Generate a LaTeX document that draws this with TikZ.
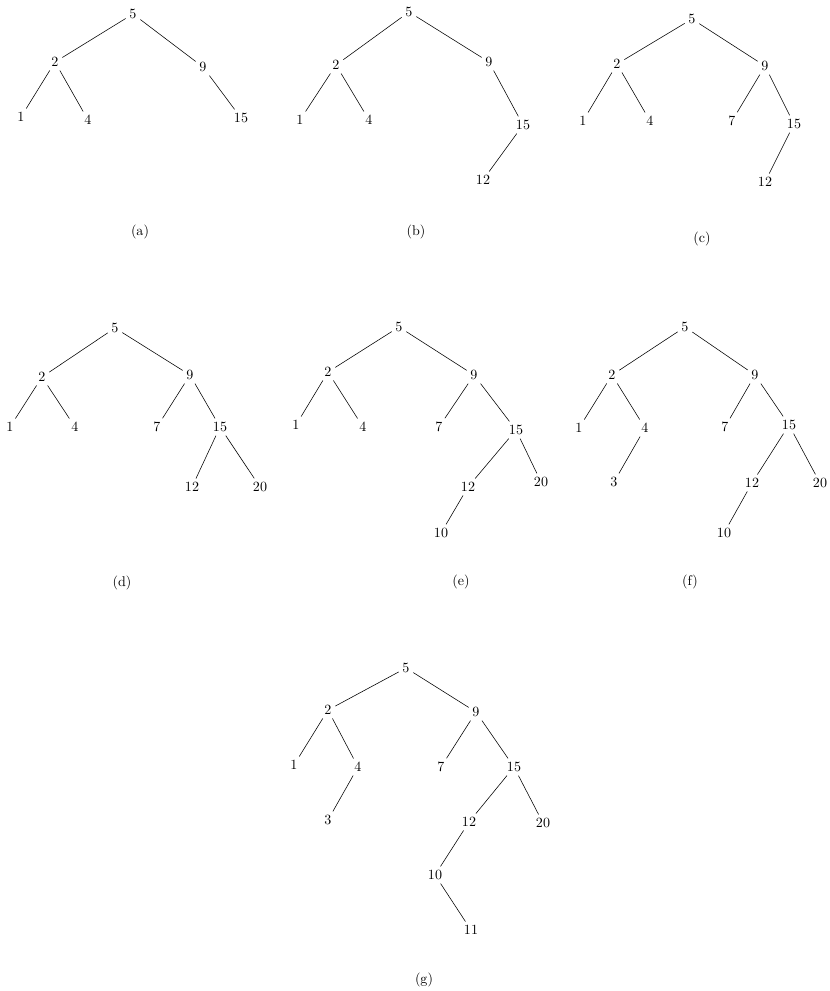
\documentclass[tikz,border=0pt]{standalone}
\usepackage{amsmath}
\usepackage{tikz}

\begin{document}
\begin{tikzpicture}[x=0.025cm, y=-0.025cm, every node/.style={inner sep=2.5pt}]
  \useasboundingbox (0,0) rectangle (829,991);
  % Tree (a)
  \begin{scope}[shift={(133,14)}]
    \node (a5) at (0,0) {5};
    \node (a2) at (-78,48) {2};
    \node (a1) at (-112,103) {1};
    \node (a4) at (-45,106) {4};
    \node (a9) at (70,53) {9};
    \node (a15) at (108,104) {15};
    \node (acap) at (7,218) {(a)};
    \draw (a5) -- (a2);
    \draw (a5) -- (a9);
    \draw (a2) -- (a1);
    \draw (a2) -- (a4);
    \draw (a9) -- (a15);
  \end{scope}
  % Tree (b)
  \begin{scope}[shift={(409,12)}]
    \node (b5) at (0,0) {5};
    \node (b2) at (-73,53) {2};
    \node (b1) at (-109,108) {1};
    \node (b4) at (-40,108) {4};
    \node (b9) at (80,50) {9};
    \node (b15) at (114,113) {15};
    \node (b12) at (74,168) {12};
    \node (bcap) at (7,220) {(b)};
    \draw (b5) -- (b2);
    \draw (b5) -- (b9);
    \draw (b2) -- (b1);
    \draw (b2) -- (b4);
    \draw (b9) -- (b15);
    \draw (b15) -- (b12);
  \end{scope}
  % Tree (c)
  \begin{scope}[shift={(692,19)}]
    \node (c5) at (0,0) {5};
    \node (c2) at (-75,45) {2};
    \node (c1) at (-109,102) {1};
    \node (c4) at (-42,102) {4};
    \node (c9) at (73,47) {9};
    \node (c7) at (40,102) {7};
    \node (c15) at (102,105) {15};
    \node (c12) at (73,163) {12};
    \node (ccap) at (10,220) {(c)};
    \draw (c5) -- (c2);
    \draw (c5) -- (c9);
    \draw (c2) -- (c1);
    \draw (c2) -- (c4);
    \draw (c9) -- (c7);
    \draw (c9) -- (c15);
    \draw (c15) -- (c12);
  \end{scope}
  % Tree (d)
  \begin{scope}[shift={(115,328)}]
    \node (d5) at (0,0) {5};
    \node (d2) at (-73,49) {2};
    \node (d1) at (-105,99) {1};
    \node (d4) at (-40,99) {4};
    \node (d9) at (75,47) {9};
    \node (d7) at (42,99) {7};
    \node (d15) at (105,99) {15};
    \node (d12) at (77,159) {12};
    \node (d20) at (145,159) {20};
    \node (dcap) at (7,255) {(d)};
    \draw (d5) -- (d2);
    \draw (d5) -- (d9);
    \draw (d2) -- (d1);
    \draw (d2) -- (d4);
    \draw (d9) -- (d7);
    \draw (d9) -- (d15);
    \draw (d15) -- (d12);
    \draw (d15) -- (d20);
  \end{scope}
  % Tree (e)
  \begin{scope}[shift={(399,327)}]
    \node (e5) at (0,0) {5};
    \node (e2) at (-71,45) {2};
    \node (e1) at (-103,98) {1};
    \node (e4) at (-36,100) {4};
    \node (e9) at (75,48) {9};
    \node (e7) at (40,100) {7};
    \node (e15) at (117,103) {15};
    \node (e12) at (69,160) {12};
    \node (e20) at (142,155) {20};
    \node (e10) at (42,206) {10};
    \node (ecap) at (62,255) {(e)};
    \draw (e5) -- (e2);
    \draw (e5) -- (e9);
    \draw (e2) -- (e1);
    \draw (e2) -- (e4);
    \draw (e9) -- (e7);
    \draw (e9) -- (e15);
    \draw (e15) -- (e12);
    \draw (e15) -- (e20);
    \draw (e12) -- (e10);
  \end{scope}
  % Tree (f)
  \begin{scope}[shift={(685,327)}]
    \node (f5) at (0,0) {5};
    \node (f2) at (-73,48) {2};
    \node (f1) at (-106,101) {1};
    \node (f4) at (-40,101) {4};
    \node (f3) at (-71,155) {3};
    \node (f9) at (70,48) {9};
    \node (f7) at (40,100) {7};
    \node (f15) at (104,98) {15};
    \node (f12) at (67,156) {12};
    \node (f20) at (135,156) {20};
    \node (f10) at (39,206) {10};
    \node (fcap) at (5,255) {(f)};
    \draw (f5) -- (f2);
    \draw (f5) -- (f9);
    \draw (f2) -- (f1);
    \draw (f2) -- (f4);
    \draw (f4) -- (f3);
    \draw (f9) -- (f7);
    \draw (f9) -- (f15);
    \draw (f15) -- (f12);
    \draw (f15) -- (f20);
    \draw (f12) -- (f10);
  \end{scope}
  % Tree (g)
  \begin{scope}[shift={(406,668)}]
    \node (g5) at (0,0) {5};
    \node (g2) at (-78,42) {2};
    \node (g1) at (-112,97) {1};
    \node (g4) at (-48,99) {4};
    \node (g3) at (-78,152) {3};
    \node (g9) at (70,44) {9};
    \node (g7) at (35,99) {7};
    \node (g15) at (108,99) {15};
    \node (g12) at (63,154) {12};
    \node (g20) at (137,155) {20};
    \node (g10) at (29,207) {10};
    \node (g11) at (65,262) {11};
    \node (gcap) at (18,312) {(g)};
    \draw (g5) -- (g2);
    \draw (g5) -- (g9);
    \draw (g2) -- (g1);
    \draw (g2) -- (g4);
    \draw (g4) -- (g3);
    \draw (g9) -- (g7);
    \draw (g9) -- (g15);
    \draw (g15) -- (g12);
    \draw (g15) -- (g20);
    \draw (g12) -- (g10);
    \draw (g10) -- (g11);
  \end{scope}
\end{tikzpicture}
\end{document}
